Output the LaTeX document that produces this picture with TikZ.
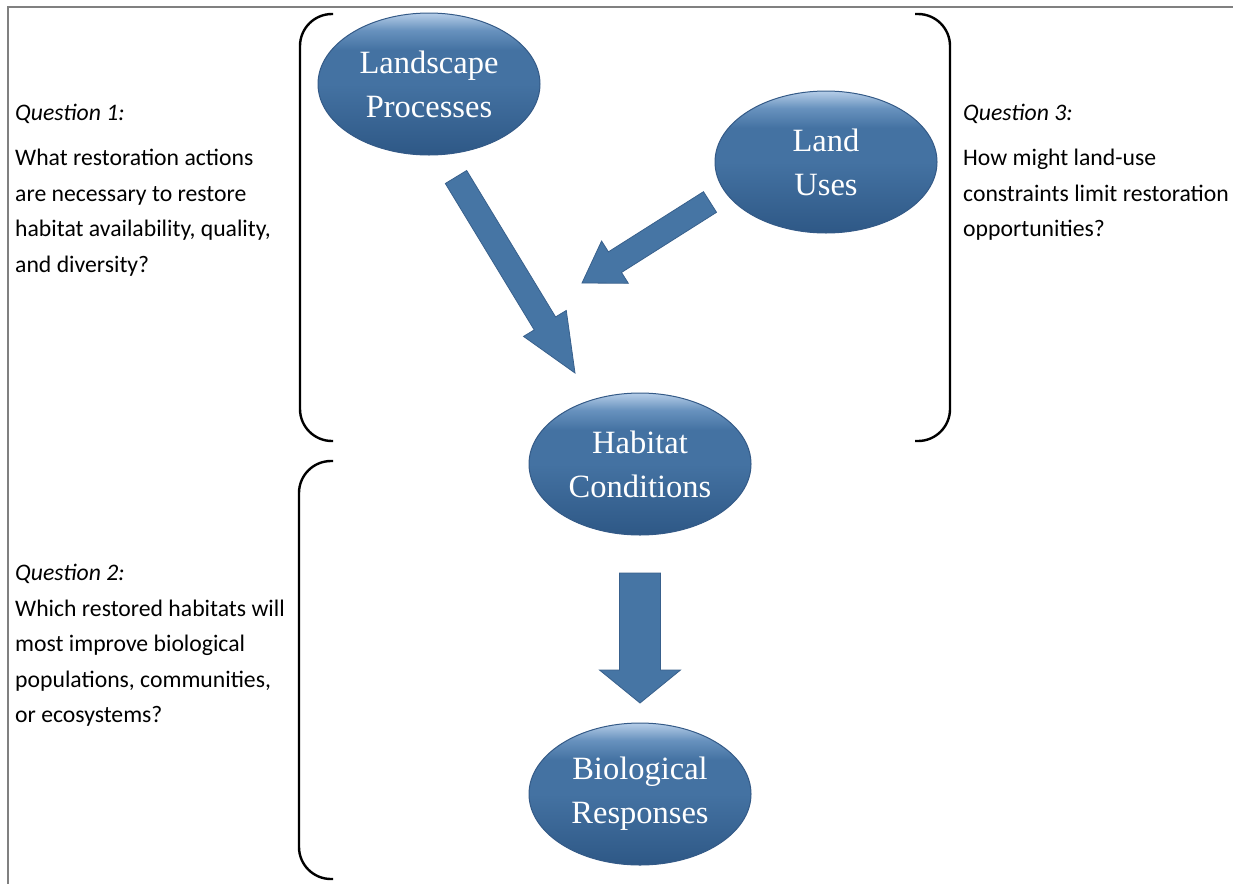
\documentclass[tikz,border=0pt]{standalone}
\usepackage{fontspec}
\setmainfont{Carlito}
\newfontfamily\ellfont{Liberation Serif}
\usetikzlibrary{shapes.geometric,calc}
\definecolor{arrowfill}{RGB}{70,117,164}
\definecolor{arrowline}{RGB}{56,96,140}
\definecolor{elldark}{RGB}{46,88,134}
\definecolor{ellmid}{RGB}{68,114,162}
\definecolor{ellmidb}{RGB}{104,146,190}
\definecolor{elllight}{RGB}{182,206,232}
\definecolor{ellline}{RGB}{52,90,135}
\definecolor{framegray}{RGB}{128,128,128}
\pgfdeclareverticalshading{ellshade}{100bp}{color(0bp)=(elldark); color(25bp)=(elldark); color(50bp)=(ellmid); color(62bp)=(ellmid); color(69bp)=(ellmidb); color(75bp)=(elllight); color(100bp)=(elllight)}
\newcommand\blockarrow[5]{%
  \coordinate (#1h) at ($(#2)!#5!(#1)$);
  \path[arrowshape] ($(#1)!#3!90:(#2)$) -- ($(#1h)!#3!90:(#2)$) -- ($(#1h)!#4!90:(#2)$) -- (#2)
    -- ($(#1h)!#4!-90:(#2)$) -- ($(#1h)!#3!-90:(#2)$) -- ($(#1)!#3!-90:(#2)$) -- cycle;}
\tikzset{
  ell/.style={ellipse, draw=ellline, line width=1pt, shade, shading=ellshade,
    minimum width=222pt, minimum height=142pt, inner sep=0pt, align=center,
    text=white, font=\ellfont\fontsize{32.5}{44}\selectfont},
  arrowshape/.style={fill=arrowfill, draw=arrowline, line width=0.8pt, line join=miter},
  bracket/.style={draw=black, line width=2.4pt, rounded corners=32pt},
  qline/.style={anchor=base west, inner sep=0pt, font=\fontsize{23.7}{36}\selectfont},
  qtitle/.style={qline, font=\fontsize{23.7}{36}\selectfont\itshape},
  frame/.style={draw=framegray, line width=2pt}
}
\begin{document}
\begin{tikzpicture}[x=1pt,y=-1pt]
\useasboundingbox (0,0) rectangle (1233,884);
% frame
\draw[frame] (1233,7) -- (8,7) -- (8,884);
% brackets
\draw[bracket] (333,14) -- (300,14) -- (300,441) -- (333,441);
\draw[bracket] (333,461) -- (299,461) -- (299,879) -- (333,879);
\draw[bracket] (915,14) -- (950,14) -- (950,441) -- (915,441);
% ellipses
\node[ell] (lp) at (429,84) {Landscape\\Processes};
\node[ell] (lu) at (826,162) {Land\\Uses};
\node[ell] (hc) at (640,464) {Habitat\\Conditions};
\node[ell] (br) at (640,794) {Biological\\Responses};
% block arrows
\coordinate (a1t) at (456,177);
\coordinate (a1p) at (575,373);
\blockarrow{a1t}{a1p}{12.5pt}{25pt}{58pt}
\coordinate (a2t) at (710,202);
\coordinate (a2p) at (582,283);
\blockarrow{a2t}{a2p}{12.2pt}{25pt}{39pt}
\coordinate (a3t) at (640,573);
\coordinate (a3p) at (640,703);
\blockarrow{a3t}{a3p}{20.5pt}{40.5pt}{33pt}
% question 1
\node[qtitle] (q1t) at (15,120) {Question 1:};
\node[qline] (q1a) at (15,165) {What restoration actions};
\node[qline] (q1b) at (15,201) {are necessary to restore};
\node[qline] (q1c) at (15,236) {habitat availability, quality,};
\node[qline] (q1d) at (15,272) {and diversity?};
% question 3
\node[qtitle] (q3t) at (963,120) {Question 3:};
\node[qline] (q3a) at (963,165) {How might land-use};
\node[qline] (q3b) at (963,201) {constraints limit restoration};
\node[qline] (q3c) at (963,236) {opportunities?};
% question 2
\node[qtitle] (q2t) at (15,580) {Question 2:};
\node[qline] (q2a) at (15,616) {Which restored habitats will};
\node[qline] (q2b) at (15,651) {most improve biological};
\node[qline] (q2c) at (15,687) {populations, communities,};
\node[qline] (q2d) at (15,722) {or ecosystems?};
\end{tikzpicture}
\end{document}
